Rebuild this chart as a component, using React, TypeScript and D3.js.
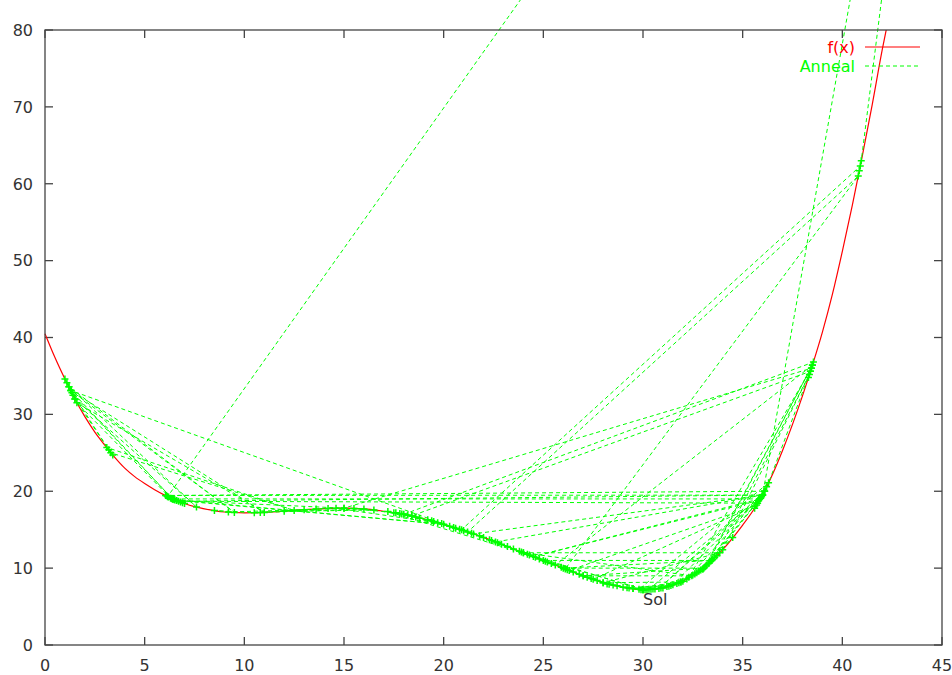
import React from 'react';
import * as d3 from 'd3';

// f(x) curve
const fX = [0, 0.5, 1, 1.5, 2, 2.5, 3, 3.5, 4, 4.5, 5, 5.5, 6, 6.5, 7, 7.5, 8, 9, 10, 11, 12, 13, 14, 15, 16, 17, 18, 19, 20, 21, 22, 23, 24, 25, 26, 27, 28, 29, 30, 31, 32, 33, 34, 35, 35.5, 36, 36.5, 37, 37.5, 38, 38.5, 39, 39.5, 40, 40.5, 41, 41.5, 42, 42.2];
const fY = [40.5, 37.4, 34.6, 32.0, 29.7, 27.7, 26.0, 24.4, 23.0, 21.9, 21.0, 20.2, 19.5, 18.9, 18.4, 18.0, 17.7, 17.3, 17.2, 17.25, 17.4, 17.6, 17.75, 17.8, 17.7, 17.4, 17.0, 16.4, 15.7, 14.9, 14.0, 13.0, 12.0, 11.0, 10.0, 9.0, 8.1, 7.5, 7.2, 7.4, 8.3, 9.9, 12.4, 15.6, 17.4, 19.5, 22.2, 25.3, 28.7, 32.4, 36.4, 40.7, 45.6, 51.2, 57.2, 63.6, 70.3, 77.4, 80];

// Annealing trace (visited points, in order)
const annealX = [45.87, 40.95, 40.85, 40.9, 20.9, 21.2, 40.8, 26.1, 25.6, 38.5, 38.4, 38.55, 18.0, 18.4, 17.6, 20.6,
  1.3, 1.1, 1.5, 1.2, 1.4, 1.0, 1.35, 6.4, 1.3, 9.5, 1.2, 7.6, 1.5, 3.2, 3.4, 3.1, 12.5, 3.3, 1.3, 11.0, 1.6, 6.3,
  6.5, 6.2, 6.8, 6.4, 6.1, 6.6, 6.35, 6.9, 6.45, 6.15, 45.87, 36.0, 35.9, 36.1, 6.05, 36.0, 6.7, 35.75, 35.9, 36.1, 35.8, 36.0, 35.6, 36.2, 35.85, 6.4, 7.0, 6.5, 20.0, 6.6, 15.0, 16.0,
  10.5, 8.5, 9.2, 13.0, 10.8, 13.6, 14.2, 12.0, 16.5, 15.5, 17.5, 18.8, 17.8, 19.5, 18.4, 38.4, 38.5, 38.3, 38.45, 15.0, 14.6, 19.9, 21.0, 20.5, 22.0, 21.5, 36.0, 22.6, 23.5, 22.9, 24.0, 23.8, 24.3, 22.4,
  24.8, 25.2, 26.5, 25.9, 27.0, 26.3, 35.7, 27.5, 28.0, 27.2, 28.5, 29.0, 28.3, 29.5, 30.0, 29.2, 30.5, 31.0, 30.3, 36.0, 31.5, 32.0, 31.2, 32.5, 33.0, 32.7, 33.3, 33.1, 38.5, 33.2, 33.5, 32.9, 35.95, 33.4, 34.5, 33.6, 38.35, 34.0, 33.0, 35.8, 24.5, 35.85, 30.8, 36.1, 32.3, 38.45, 36.3, 29.8, 31.8, 30.2, 30.1,
  25.0, 33.45, 26.0, 33.05, 27.0, 32.45, 24.0, 33.85, 28.0, 31.9, 29.5, 30.0,
  17.2, 17.9, 18.6, 18.2, 19.2, 19.7, 20.3, 19.4, 20.8, 21.8, 21.4, 22.3, 23.2, 22.7, 23.9, 24.6, 24.2, 25.4, 25.1, 26.8, 26.2, 27.7, 27.4, 28.7, 28.2, 29.3, 29.9, 30.6, 31.3, 30.9, 31.7, 32.2, 31.9, 32.8, 33.7, 33.3, 32.6, 31.4, 30.4, 30.0];
const annealY = [164.3, 63.0, 61.7, 62.3, 15.0, 14.7, 61.0, 9.9, 10.4, 36.4, 35.6, 36.8, 17.0, 16.8, 17.2, 15.2,
  33.1, 34.1, 32.0, 33.6, 32.5, 34.6, 32.8, 19.0, 33.1, 17.25, 33.6, 17.95, 32.0, 25.4, 24.7, 25.7, 17.5, 25.0, 33.1, 17.25, 31.5, 19.1,
  18.9, 19.25, 18.6, 19.0, 19.4, 18.8, 19.05, 18.5, 18.95, 19.3, 164.3, 19.5, 19.1, 20.0, 19.45, 19.5, 18.7, 18.45, 19.1, 20.0, 18.8, 19.5, 17.8, 20.6, 19.0, 19.0, 18.4, 18.9, 15.7, 18.8, 17.8, 17.7,
  17.2, 17.5, 17.3, 17.6, 17.25, 17.7, 17.75, 17.4, 17.55, 17.75, 17.2, 16.5, 17.1, 16.05, 16.8, 35.6, 36.4, 34.8, 36.0, 17.8, 17.8, 15.8, 14.9, 15.3, 14.0, 14.45, 19.5, 13.4, 12.5, 13.1, 12.0, 12.2, 11.7, 13.6,
  11.2, 10.8, 9.5, 10.1, 9.0, 9.7, 18.2, 8.55, 8.1, 8.8, 7.8, 7.5, 7.9, 7.35, 7.2, 7.45, 7.3, 7.4, 7.25, 19.5, 7.85, 8.3, 7.6, 9.1, 9.9, 9.4, 10.65, 10.15, 36.4, 10.4, 11.15, 9.75, 19.3, 10.9, 14.0, 11.4, 35.2, 12.4, 9.9, 18.8, 11.5, 19.0, 7.35, 20.0, 8.8, 36.0, 21.1, 7.25, 8.1, 7.2, 7.2,
  11.0, 11.0, 10.0, 10.0, 9.0, 9.0, 12.0, 12.0, 8.1, 8.2, 7.35, 7.2,
  17.35, 17.05, 16.65, 16.9, 16.3, 15.9, 15.45, 16.15, 15.05, 14.2, 14.55, 13.7, 12.8, 13.3, 12.1, 11.4, 11.8, 10.6, 10.9, 9.2, 9.8, 8.4, 8.65, 7.7, 7.95, 7.4, 7.2, 7.3, 7.65, 7.4, 8.0, 8.6, 8.2, 9.6, 11.6, 10.65, 9.25, 7.75, 7.25, 7.2];

const xTicks = [0, 5, 10, 15, 20, 25, 30, 35, 40, 45];
const yTicks = [0, 10, 20, 30, 40, 50, 60, 70, 80];
const solLabel = { x: 30, y: 6, text: 'Sol' };
const legendNames = ['f(x)', 'Anneal'];

const W = 952;
const H = 675;
const L = 45, R = 942, T = 30, B = 645;
const FONT = 'DejaVu Sans, sans-serif';
const TXT = '#333';
const AX = '#444';
const RED = '#ff0000';
const GREEN = '#00ff00';

export default function App() {
  const x = d3.scaleLinear().domain([0, 45]).range([L, R]);
  const y = d3.scaleLinear().domain([0, 80]).range([B, T]);

  const fPts: [number, number][] = fX.map((v, i) => [v, fY[i]]);
  const fPath = d3.line<[number, number]>().x(d => x(d[0])).y(d => y(d[1])).curve(d3.curveMonotoneX)(fPts) || '';

  const aPts: [number, number][] = annealX.map((v, i) => [v, annealY[i]]);
  const aPath = d3.line<[number, number]>().x(d => x(d[0])).y(d => y(d[1]))(aPts) || '';
  const visible = aPts.filter(d => d[0] >= 0 && d[0] <= 45 && d[1] >= 0 && d[1] <= 80);

  const tk = 8;
  const ps = 3.5;

  return (
    <div style={{ position: 'absolute', left: 0, top: 0 }}>
      <svg width={W} height={H} style={{ display: 'block', background: '#fff' }}>
        <defs>
          <clipPath id="gclip">
            <rect x={L} y={0} width={R - L} height={B} />
          </clipPath>
        </defs>
        <rect x={0} y={0} width={W} height={H} fill="#fff" />
        {xTicks.map(t => (
          <g key={'xt' + t}>
            <line x1={x(t)} x2={x(t)} y1={B} y2={B - tk} stroke={AX} strokeWidth={1.3} />
            <line x1={x(t)} x2={x(t)} y1={T} y2={T + tk} stroke={AX} strokeWidth={1.3} />
            <text x={x(t)} y={671} textAnchor="middle" fontFamily={FONT} fontSize={16} fill={TXT}>{t}</text>
          </g>
        ))}
        {yTicks.map(t => (
          <g key={'yt' + t}>
            <line x1={L} x2={L + tk} y1={y(t)} y2={y(t)} stroke={AX} strokeWidth={1.3} />
            <line x1={R} x2={R - tk} y1={y(t)} y2={y(t)} stroke={AX} strokeWidth={1.3} />
            <text x={33} y={y(t)} dy="0.36em" textAnchor="end" fontFamily={FONT} fontSize={16} fill={TXT}>{t}</text>
          </g>
        ))}
        <path d={fPath} fill="none" stroke={RED} strokeWidth={1.2} />
        <g clipPath="url(#gclip)">
          <path d={aPath} fill="none" stroke={GREEN} strokeWidth={1} strokeDasharray="4,3" />
        </g>
        {visible.map((d, i) => (
          <path key={'p' + i}
            d={`M${x(d[0]) - ps},${y(d[1])}h${2 * ps}M${x(d[0])},${y(d[1]) - ps}v${2 * ps}`}
            stroke={GREEN} strokeWidth={1.5} fill="none" />
        ))}
        <rect x={L} y={T} width={R - L} height={B - T} fill="none" stroke={AX} strokeWidth={1.3} />
        <text x={x(solLabel.x)} y={y(solLabel.y)} dy="0.36em" fontFamily={FONT} fontSize={16} fill={TXT}>{solLabel.text}</text>
        <text x={855} y={47} dy="0.36em" textAnchor="end" fontFamily={FONT} fontSize={16} fill={RED}>{legendNames[0]}</text>
        <line x1={865} x2={920} y1={47} y2={47} stroke={RED} strokeWidth={1.2} />
        <text x={855} y={66} dy="0.36em" textAnchor="end" fontFamily={FONT} fontSize={16} fill={GREEN}>{legendNames[1]}</text>
        <line x1={865} x2={920} y1={66} y2={66} stroke={GREEN} strokeWidth={1} strokeDasharray="4,3" />
      </svg>
    </div>
  );
}
